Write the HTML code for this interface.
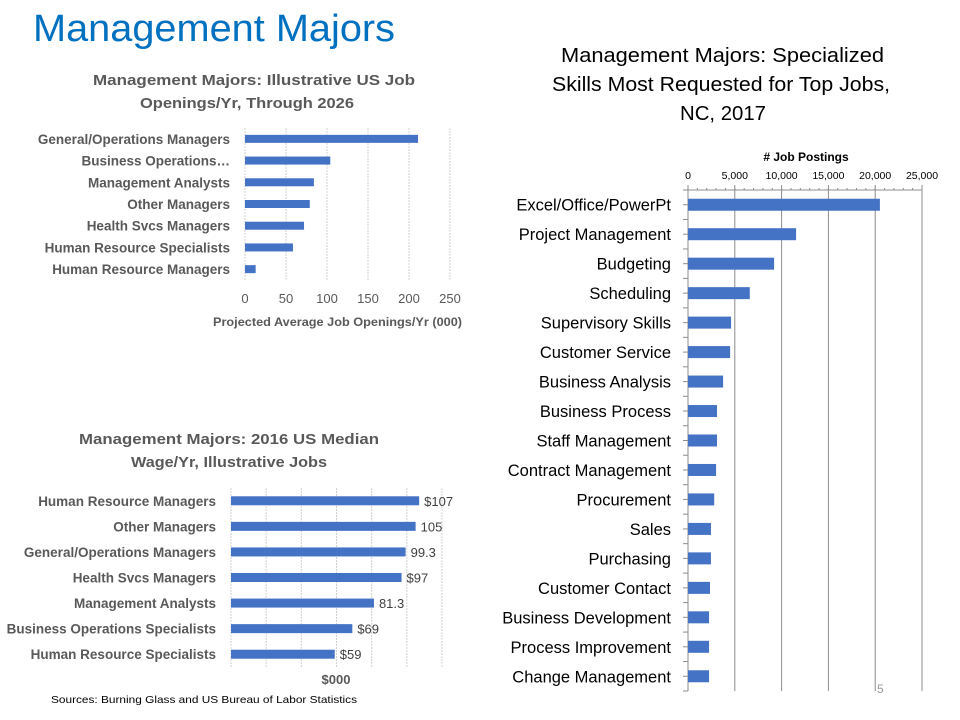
<!DOCTYPE html>
<html><head><meta charset="utf-8"><style>
body{margin:0;background:#fff;}
svg{display:block;font-family:"Liberation Sans",sans-serif;}
</style></head><body>
<svg id="s" width="960" height="720" viewBox="0 0 960 720">
<text x="33" y="41" font-size="38" fill="#0070C0" textLength="362" lengthAdjust="spacingAndGlyphs">Management Majors</text>
<g id="c1">
<text x="93" y="85" font-size="15" font-weight="bold" fill="#595959" textLength="322" lengthAdjust="spacingAndGlyphs">Management Majors: Illustrative US Job</text>
<text x="140" y="108" font-size="15" font-weight="bold" fill="#595959" textLength="214" lengthAdjust="spacingAndGlyphs">Openings/Yr, Through 2026</text>
<text x="213" y="326" font-size="12" font-weight="bold" fill="#595959" textLength="249" lengthAdjust="spacingAndGlyphs">Projected Average Job Openings/Yr (000)</text>
</g>
<g id="c2">
<text x="79" y="444" font-size="15" font-weight="bold" fill="#595959" textLength="300" lengthAdjust="spacingAndGlyphs">Management Majors: 2016 US Median</text>
<text x="131" y="467" font-size="15" font-weight="bold" fill="#595959" textLength="196" lengthAdjust="spacingAndGlyphs">Wage/Yr, Illustrative Jobs</text>
<text x="336" y="684" font-size="13" font-weight="bold" fill="#595959" text-anchor="middle">$000</text>
<text x="51" y="703" font-size="10.5" fill="#000" textLength="306" lengthAdjust="spacingAndGlyphs">Sources: Burning Glass and US Bureau of Labor Statistics</text>
</g>
<g id="c3">
<text x="561" y="62" font-size="20" fill="#000" textLength="323" lengthAdjust="spacingAndGlyphs">Management Majors: Specialized</text>
<text x="552" y="91" font-size="20" fill="#000" textLength="338" lengthAdjust="spacingAndGlyphs">Skills Most Requested for Top Jobs,</text>
<text x="680" y="120" font-size="20" fill="#000" textLength="86" lengthAdjust="spacingAndGlyphs">NC, 2017</text>
<text x="806" y="161" font-size="12" font-weight="bold" fill="#000" text-anchor="middle"># Job Postings</text>
</g>
<text x="877" y="693" font-size="12" fill="#999">5</text>
</svg>
<script>
const NS="http://www.w3.org/2000/svg";
function mk(p,t,a){const e=document.createElementNS(NS,t);for(const k in a)e.setAttribute(k,a[k]);p.appendChild(e);return e;}
// Chart 1
const jobCats=["General/Operations Managers","Business Operations…","Management Analysts","Other Managers","Health Svcs Managers","Human Resource Specialists","Human Resource Managers"];
const jobVals=[211,104,84,79,72,58.5,13];
const jobTicks=[0,50,100,150,200,250];
// Chart 2
const wageCats=["Human Resource Managers","Other Managers","General/Operations Managers","Health Svcs Managers","Management Analysts","Business Operations Specialists","Human Resource Specialists"];
const wageVals=[107,105,99.3,97,81.3,69,59];
const wageLabels=["$107","105","99.3","$97","81.3","$69","$59"];
const wageTicks=[0,20,40,60,80,100,120];
// Chart 3
const skillCats=["Excel/Office/PowerPt","Project Management","Budgeting","Scheduling","Supervisory Skills","Customer Service","Business Analysis","Business Process","Staff Management","Contract Management","Procurement","Sales","Purchasing","Customer Contact","Business Development","Process Improvement","Change Management"];
const skillVals=[20500,11550,9200,6600,4600,4500,3750,3100,3100,3000,2800,2450,2450,2350,2250,2250,2250];
const skillTicks=[0,5000,10000,15000,20000,25000];
const skillTickLabels=["0","5,000","10,000","15,000","20,000","25,000"];

(function(){
 const g=document.getElementById('c1');const x0=245,x1=450,max=250,top=128,bot=280;
 const sx=v=>x0+(x1-x0)*v/max;const bh=(bot-top)/jobCats.length;
 jobTicks.forEach(t=>{
  const l=mk(g,'line',{x1:sx(t),x2:sx(t),y1:top,y2:bot,stroke:'#d0d0d0','stroke-dasharray':'2,1'});
  
  const tx=mk(g,'text',{x:sx(t),y:303,'font-size':13,fill:'#595959','text-anchor':'middle'});tx.textContent=t;
  
 });
 jobCats.forEach((c,i)=>{
  const cy=top+bh*(i+0.5);
  const r=mk(g,'rect',{x:x0,y:cy-4,width:sx(jobVals[i])-x0,height:8,fill:'#4472C4'});
  
  const t=mk(g,'text',{x:x0-15,y:cy+5,'font-size':13.5,'font-weight':'bold',fill:'#595959','text-anchor':'end'});t.textContent=c;
  
 });
})();
(function(){
 const g=document.getElementById('c2');const x0=231,x1=442,max=120,top=488,bot=667;
 const sx=v=>x0+(x1-x0)*v/max;const bh=(bot-top)/wageCats.length;
 wageTicks.forEach(t=>{
  const l=mk(g,'line',{x1:sx(t),x2:sx(t),y1:top,y2:bot,stroke:'#d0d0d0','stroke-dasharray':'2,1'});
  
 });
 wageCats.forEach((c,i)=>{
  const cy=top+bh*(i+0.5);
  const r=mk(g,'rect',{x:x0,y:cy-4.5,width:sx(wageVals[i])-x0,height:9,fill:'#4472C4'});
  
  const t=mk(g,'text',{x:x0-15,y:cy+5,'font-size':13.5,'font-weight':'bold',fill:'#595959','text-anchor':'end'});t.textContent=c;
  
  const v=mk(g,'text',{x:sx(wageVals[i])+5,y:cy+5,'font-size':13,fill:'#404040'});v.textContent=wageLabels[i];
  
 });
})();
(function(){
 const g=document.getElementById('c3');const x0=688,x1=922,max=25000,top=190,bot=691;
 const sx=v=>x0+(x1-x0)*v/max;const bh=(bot-top)/skillCats.length;
 skillTicks.forEach((t,i)=>{
  const l=mk(g,'line',{x1:sx(t),x2:sx(t),y1:top-5,y2:bot,stroke:'#8c8c8c','stroke-width':1});
  
  const tx=mk(g,'text',{x:sx(t),y:179,'font-size':10.5,fill:'#000','text-anchor':'middle'});tx.textContent=skillTickLabels[i];
  
 });
 for(let v=0;v<=max;v+=1000){const m=mk(g,'line',{x1:sx(v),x2:sx(v),y1:top-2,y2:top,stroke:'#8c8c8c'});
  }
 const ax=mk(g,'line',{x1:x0,x2:x1,y1:top,y2:top,stroke:'#8c8c8c'});
 
 for(let i=0;i<=skillCats.length;i++){const m=mk(g,'line',{x1:x0-5,x2:x0,y1:top+bh*i,y2:top+bh*i,stroke:'#8c8c8c'});
  }
 skillCats.forEach((c,i)=>{
  const cy=top+bh*(i+0.5);
  const m=mk(g,'line',{x1:x0-5,x2:x0,y1:cy,y2:cy,stroke:'#8c8c8c'});
  
  const r=mk(g,'rect',{x:x0,y:cy-6,width:sx(skillVals[i])-x0,height:12,fill:'#4472C4'});
  
  const t=mk(g,'text',{x:671,y:cy+6,'font-size':16.5,fill:'#000','text-anchor':'end'});t.textContent=c;
  
 });
})();
</script>
</body></html>
